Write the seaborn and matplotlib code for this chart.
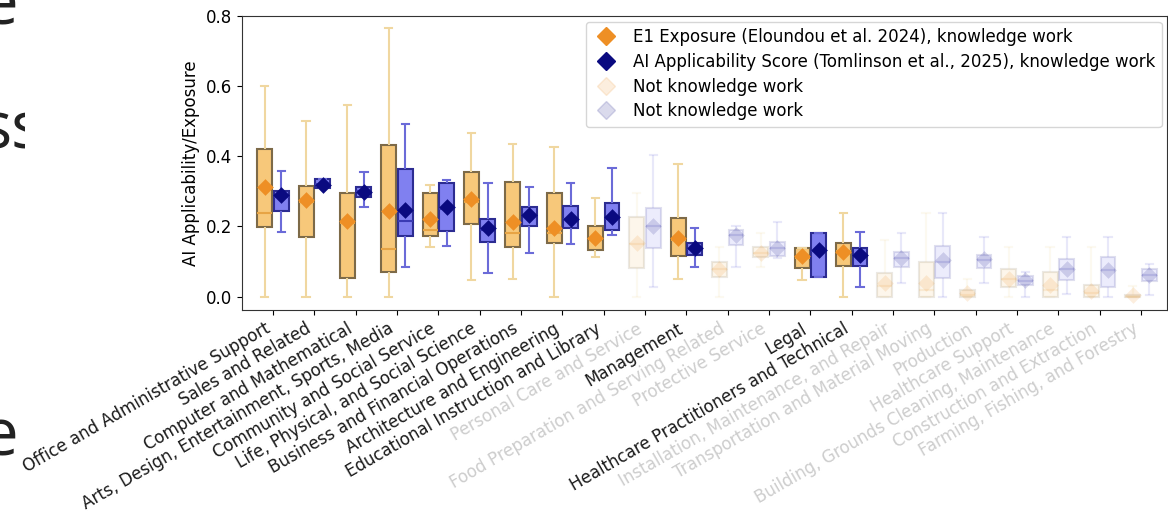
import numpy as np
import pandas as pd
import matplotlib
matplotlib.use("Agg")
import matplotlib.pyplot as plt
from matplotlib.lines import Line2D
from matplotlib.transforms import Bbox, TransformedBbox
import seaborn as sns

# ---------------------------------------------------------------- data
categories = [
    "Office and Administrative Support",
    "Sales and Related",
    "Computer and Mathematical",
    "Arts, Design, Entertainment, Sports, Media",
    "Community and Social Service",
    "Life, Physical, and Social Science",
    "Business and Financial Operations",
    "Architecture and Engineering",
    "Educational Instruction and Library",
    "Personal Care and Service",
    "Management",
    "Food Preparation and Serving Related",
    "Protective Service",
    "Legal",
    "Healthcare Practitioners and Technical",
    "Installation, Maintenance, and Repair",
    "Transportation and Material Moving",
    "Production",
    "Healthcare Support",
    "Building, Grounds Cleaning, Maintenance",
    "Construction and Extraction",
    "Farming, Fishing, and Forestry",
]
knowledge_work = [True, True, True, True, True, True, True, True, True, False,
                  True, False, False, True, True, False, False, False, False,
                  False, False, False]

# E1 exposure (Eloundou et al. 2024): five-number summary and mean per group
e1_min = [0.000, 0.000, 0.000, 0.000, 0.140, 0.047, 0.050, 0.000, 0.114, 0.000, 0.050,
          0.000, 0.085, 0.047, 0.000, 0.000, 0.000, 0.000, 0.000, 0.000, 0.000, 0.000]
e1_q1 = [0.197, 0.171, 0.052, 0.071, 0.173, 0.208, 0.141, 0.154, 0.133, 0.081, 0.116,
         0.057, 0.112, 0.081, 0.088, 0.000, 0.000, 0.000, 0.028, 0.000, 0.000, 0.000]
e1_med = [0.237, 0.270, 0.210, 0.135, 0.190, 0.270, 0.180, 0.180, 0.165, 0.150, 0.160,
          0.080, 0.125, 0.110, 0.130, 0.030, 0.020, 0.005, 0.050, 0.020, 0.010, 0.000]
e1_q3 = [0.420, 0.315, 0.296, 0.432, 0.294, 0.356, 0.326, 0.294, 0.200, 0.226, 0.223,
         0.100, 0.142, 0.138, 0.152, 0.067, 0.100, 0.020, 0.078, 0.071, 0.033, 0.005]
e1_max = [0.600, 0.500, 0.545, 0.764, 0.318, 0.467, 0.435, 0.425, 0.280, 0.294, 0.378,
          0.142, 0.180, 0.138, 0.237, 0.161, 0.237, 0.050, 0.142, 0.142, 0.140, 0.030]
e1_mean = [0.312, 0.275, 0.215, 0.244, 0.220, 0.278, 0.213, 0.195, 0.166, 0.154, 0.166,
           0.080, 0.125, 0.117, 0.128, 0.038, 0.038, 0.010, 0.050, 0.033, 0.015, 0.005]

# AI applicability score (Tomlinson et al., 2025)
ai_min = [0.185, 0.310, 0.256, 0.085, 0.144, 0.068, 0.123, 0.149, 0.176, 0.027, 0.085,
          0.085, 0.109, 0.055, 0.027, 0.040, 0.000, 0.040, 0.000, 0.008, 0.000, 0.005]
ai_q1 = [0.245, 0.310, 0.283, 0.173, 0.188, 0.156, 0.200, 0.196, 0.190, 0.138, 0.119,
         0.147, 0.116, 0.055, 0.088, 0.085, 0.052, 0.081, 0.033, 0.047, 0.028, 0.045]
ai_med = [0.285, 0.320, 0.300, 0.216, 0.250, 0.190, 0.230, 0.220, 0.220, 0.200, 0.135,
          0.175, 0.138, 0.130, 0.120, 0.110, 0.100, 0.105, 0.045, 0.078, 0.075, 0.062]
ai_q3 = [0.300, 0.335, 0.313, 0.363, 0.324, 0.222, 0.254, 0.258, 0.267, 0.252, 0.152,
         0.190, 0.157, 0.180, 0.138, 0.128, 0.144, 0.119, 0.059, 0.106, 0.114, 0.078]
ai_max = [0.359, 0.335, 0.356, 0.491, 0.332, 0.323, 0.311, 0.323, 0.365, 0.403, 0.195,
          0.200, 0.213, 0.180, 0.183, 0.180, 0.237, 0.169, 0.071, 0.169, 0.169, 0.092]
ai_mean = [0.290, 0.317, 0.297, 0.247, 0.254, 0.195, 0.233, 0.220, 0.226, 0.200, 0.138,
           0.176, 0.138, 0.133, 0.119, 0.109, 0.104, 0.106, 0.047, 0.078, 0.076, 0.062]

sources = ["E1", "AI"]
legend_labels = [
    "E1 Exposure (Eloundou et al. 2024), knowledge work",
    "AI Applicability Score (Tomlinson et al., 2025), knowledge work",
    "Not knowledge work",
    "Not knowledge work",
]

# ---------------------------------------------------------------- tables
summaries = {
    "E1": [e1_min, e1_q1, e1_med, e1_q3, e1_max],
    "AI": [ai_min, ai_q1, ai_med, ai_q3, ai_max],
}
means = {"E1": e1_mean, "AI": ai_mean}
kw_of = dict(zip(categories, knowledge_work))

rows = []
for src, cols in summaries.items():
    for cat, *vals in zip(categories, *cols):
        for v in vals:
            rows.append((cat, src, v, kw_of[cat]))
box_df = pd.DataFrame(rows, columns=["category", "source", "value", "knowledge"])

mean_rows = []
for src, vals in means.items():
    for cat, v in zip(categories, vals):
        mean_rows.append((cat, src, v, kw_of[cat]))
mean_df = pd.DataFrame(mean_rows, columns=["category", "source", "mean", "knowledge"])

# ---------------------------------------------------------------- style
style = {
    "E1": dict(face="#f7c87a", edge="#7d6a48", whisker="#f0d7a0",
               median="#e7a445", mean="#ee8f25"),
    "AI": dict(face="#8080f0", edge="#2c2c92", whisker="#6b6bd8",
               median="#3a3ab4", mean="#0a0a80"),
}
faded_alpha = 0.15

plt.rcParams["font.family"] = ["DejaVu Sans"]
plt.rcParams["font.size"] = 12

fig = plt.figure(figsize=(11.68, 5.16), dpi=100)
ax = fig.add_axes([241.7 / 1168, 1 - 310 / 516, (1167.5 - 241.7) / 1168, (310 - 15.7) / 516])

for src in sources:
    st = style[src]
    for is_kw in (True, False):
        a = 1.0 if is_kw else faded_alpha
        sub = box_df[(box_df["source"] == src) & (box_df["knowledge"] == is_kw)]
        sns.boxplot(
            data=sub, x="category", y="value", hue="source",
            order=categories, hue_order=sources, dodge=True,
            whis=(0, 100), width=0.8, gap=0.1, saturation=1,
            palette={s: style[s]["face"] for s in sources},
            linewidth=1.5, fliersize=0, legend=False, ax=ax,
            boxprops=dict(facecolor=st["face"], edgecolor=st["edge"], alpha=a),
            whiskerprops=dict(color=st["whisker"], alpha=a),
            capprops=dict(color=st["whisker"], alpha=a),
            medianprops=dict(color=st["median"], alpha=a),
        )
        msub = mean_df[(mean_df["source"] == src) & (mean_df["knowledge"] == is_kw)]
        sns.stripplot(
            data=msub, x="category", y="mean", hue="source",
            order=categories, hue_order=sources, dodge=True, jitter=False,
            marker="D", size=8.5, linewidth=0, alpha=a,
            palette={s: style[s]["mean"] for s in sources},
            legend=False, zorder=10, ax=ax,
        )

ax.set_xlim(-0.757, 21.64)
ax.set_ylim(-0.038, 0.8)
ax.set_yticks([0.0, 0.2, 0.4, 0.6, 0.8])
ax.set_ylabel("AI Applicability/Exposure", fontsize=12)
ax.set_xlabel("")
ax.set_xticks(range(len(categories)))
ax.set_xticklabels(categories, rotation=30, ha="right", fontsize=12)
for lab, is_kw in zip(ax.get_xticklabels(), knowledge_work):
    lab.set_color("#1a1a1a" if is_kw else "#cdcdcd")
ax.tick_params(axis="both", labelsize=12)
for sp in ax.spines.values():
    sp.set_color("#333333")

handles = [
    Line2D([], [], marker="D", ls="", color=style["E1"]["mean"], markersize=9),
    Line2D([], [], marker="D", ls="", color=style["AI"]["mean"], markersize=9),
    Line2D([], [], marker="D", ls="", color=style["E1"]["mean"], alpha=faded_alpha, markersize=9),
    Line2D([], [], marker="D", ls="", color=style["AI"]["mean"], alpha=faded_alpha, markersize=9),
]
ax.legend(handles, legend_labels, loc="upper right", fontsize=12,
          labelspacing=0.4, handlelength=1.6, borderaxespad=0.35)

# fragments of neighbouring slide text along the left edge
clip = TransformedBbox(Bbox([[0, 0], [25 / 1168, 1]]), fig.transFigure)
for txt, y in [("e\u207a", 1 - 23 / 516), ("ss", 1 - 148 / 516), ("e", 1 - 456 / 516)]:
    t = fig.text(-19 / 1168, y, txt, fontsize=47, family="Open Sans",
                 color="#222222", va="baseline", ha="left")
    t.set_clip_box(clip)
    t.set_clip_on(True)

fig.savefig("out.png", dpi=100)
